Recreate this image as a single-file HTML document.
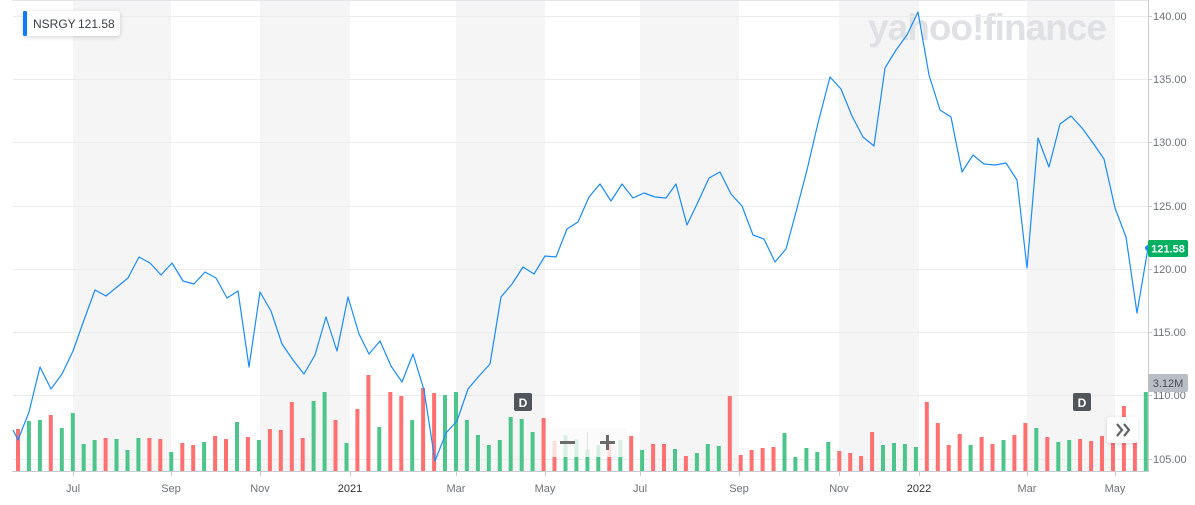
<!DOCTYPE html>
<html><head><meta charset="utf-8"><style>
html,body{margin:0;padding:0;background:#fff;}
body{width:1195px;height:505px;overflow:hidden;font-family:"Liberation Sans",sans-serif;}
</style></head><body>
<svg id="s" width="1195" height="505" xmlns="http://www.w3.org/2000/svg" style="position:absolute;left:0;top:0">
<line x1="12" y1="0.5" x2="1148" y2="0.5" stroke="#e3e5e8"/>
<g fill="#f5f5f5">
<rect x="73" y="1" width="98" height="470"/>
<rect x="260" y="1" width="90" height="470"/>
<rect x="456" y="1" width="89" height="470"/>
<rect x="640" y="1" width="99" height="470"/>
<rect x="839" y="1" width="80" height="470"/>
<rect x="1027" y="1" width="88" height="470"/>
</g>
<text x="987" y="40" font-size="37" font-weight="bold" fill="#dfe1e5" text-anchor="middle" font-family="Liberation Sans,sans-serif" letter-spacing="-1">yahoo!finance</text>
<g stroke="#ececec" stroke-width="1">
<line x1="13" y1="16.5" x2="1148" y2="16.5"/>
<line x1="13" y1="79.5" x2="1148" y2="79.5"/>
<line x1="13" y1="142.5" x2="1148" y2="142.5"/>
<line x1="13" y1="206.5" x2="1148" y2="206.5"/>
<line x1="13" y1="269.5" x2="1148" y2="269.5"/>
<line x1="13" y1="332.5" x2="1148" y2="332.5"/>
<line x1="13" y1="395.5" x2="1148" y2="395.5"/>
<line x1="13" y1="459.5" x2="1148" y2="459.5"/>
</g>
<g id="bars"></g>
<polyline fill="none" stroke="#1a8cff" stroke-width="1.2" stroke-linejoin="round" points="13,430 18,440 29,412 40,367 51,389 62,374 73,351 84,320 95,290 106,296 117,287 128,278 139,257 150,263 161,275 172,263 183,281 194,284 205,272 216,278 227,298 238,291 249,367 260,292 271,311 282,344 293,360 304,374 315,355 326,317 337,351 348,297 359,334 369,354 380,341 391,366 402,382 413,354 424,390 435,461 446,433 457,421 468,389 479,376 490,364 501,297 512,284 523,267 534,274 545,256 556,257 567,229 578,222 589,197 600,184 611,201 622,184 633,198 644,193 655,197 666,198 676,184 687,225 698,202 709,178 720,172 731,194 742,206 753,235 764,239 775,262 786,249 796,212 807,170 818,123 830,77 841,89 852,116 863,137 874,146 885,68 896,50 907,35 918,12 929,75 940,110 951,117 962,172 973,155 984,164 995,165 1006,163 1017,180 1027,268 1038,138 1049,167 1060,124 1071,116 1082,128 1093,143 1104,159 1115,208 1126,237 1137,313 1148,248"/>
<circle cx="1148" cy="248" r="3" fill="#1a8cff"/>
<line x1="1148.5" y1="0" x2="1148.5" y2="472" stroke="#c8cbd0"/>
<line x1="12" y1="471.5" x2="1148" y2="471.5" stroke="#c8cbd0"/>
<g stroke="#c8cbd0">
<line x1="73.5" y1="471" x2="73.5" y2="476"/><line x1="171.5" y1="471" x2="171.5" y2="476"/><line x1="260.5" y1="471" x2="260.5" y2="476"/><line x1="350.5" y1="471" x2="350.5" y2="476"/><line x1="456.5" y1="471" x2="456.5" y2="476"/><line x1="545.5" y1="471" x2="545.5" y2="476"/><line x1="640.5" y1="471" x2="640.5" y2="476"/><line x1="739.5" y1="471" x2="739.5" y2="476"/><line x1="839.5" y1="471" x2="839.5" y2="476"/><line x1="919.5" y1="471" x2="919.5" y2="476"/><line x1="1027.5" y1="471" x2="1027.5" y2="476"/><line x1="1115.5" y1="471" x2="1115.5" y2="476"/>
<line x1="1148" y1="16.5" x2="1152" y2="16.5"/><line x1="1148" y1="79.5" x2="1152" y2="79.5"/><line x1="1148" y1="142.5" x2="1152" y2="142.5"/><line x1="1148" y1="206.5" x2="1152" y2="206.5"/><line x1="1148" y1="269.5" x2="1152" y2="269.5"/><line x1="1148" y1="332.5" x2="1152" y2="332.5"/><line x1="1148" y1="395.5" x2="1152" y2="395.5"/><line x1="1148" y1="459.5" x2="1152" y2="459.5"/>
</g>
<g font-size="11" fill="#6e7379" text-anchor="middle">
<text x="73" y="492">Jul</text><text x="171" y="492">Sep</text><text x="260" y="492">Nov</text><text x="350" y="492" fill="#333">2021</text><text x="456" y="492">Mar</text><text x="545" y="492">May</text><text x="640" y="492">Jul</text><text x="739" y="492">Sep</text><text x="839" y="492">Nov</text><text x="919" y="492" fill="#333">2022</text><text x="1027" y="492">Mar</text><text x="1115" y="492">May</text>
</g>
<g font-size="11" fill="#6e7379">
<text x="1153" y="20">140.00</text><text x="1153" y="83">135.00</text><text x="1153" y="146">130.00</text><text x="1153" y="210">125.00</text><text x="1153" y="273">120.00</text><text x="1153" y="336">115.00</text><text x="1153" y="399">110.00</text><text x="1153" y="463">105.00</text>
</g>
<rect x="1148" y="240" width="40" height="17" rx="2" fill="#00b061"/>
<text x="1168" y="252.5" font-size="11" font-weight="bold" fill="#fff" text-anchor="middle">121.58</text>
<rect x="1148" y="374" width="40" height="18" rx="2" fill="#b9bdc4"/>
<text x="1168" y="387" font-size="11" fill="#4a4f55" text-anchor="middle">3.12M</text>
<rect x="23" y="11" width="97" height="25" rx="3" fill="#fff" style="filter:drop-shadow(0 1px 2px rgba(0,0,0,0.18))"/>
<rect x="23" y="11" width="4" height="25" rx="1.5" fill="#0f7bff"/>
<text x="33" y="28" font-size="12" fill="#3b4046">NSRGY</text>
<text x="78" y="28" font-size="12" fill="#3b4046">121.58</text>
<rect x="514" y="393" width="18" height="18" rx="2" fill="#51565c"/>
<text x="523" y="407" font-size="12" font-weight="bold" fill="#fff" text-anchor="middle">D</text>
<rect x="1073" y="393" width="18" height="18" rx="2" fill="#51565c"/>
<text x="1082" y="407" font-size="12" font-weight="bold" fill="#fff" text-anchor="middle">D</text>
<rect x="548" y="428" width="80" height="29" rx="3" fill="rgba(250,250,250,0.8)"/>
<line x1="587.5" y1="432" x2="587.5" y2="453" stroke="#e0e0e0"/>
<rect x="560" y="441" width="15" height="3" fill="#6b6b6b"/>
<rect x="600" y="441" width="15" height="3" fill="#6b6b6b"/><rect x="606" y="435" width="3" height="15" fill="#6b6b6b"/>
<rect x="1107" y="417" width="31" height="26" rx="3" fill="#fff" style="filter:drop-shadow(0 1px 2px rgba(0,0,0,0.15))"/>
<path d="M1117 424 l5 6 l-5 6 M1124 424 l5 6 l-5 6" stroke="#5f6368" stroke-width="2.2" fill="none"/>
</svg>
<script>
var c="rggrggggrgggrrgrrgrrgrgrrrrggrgrrgrrgrrgggggggggrg".split("");
var t=[147,123,120,105,144,99,192,180,174,177,210,174,174,177,216,189,195,186,168,177,126,171,180,147,150,66,174,63,36,120,189,87,-15,141,36,48,120,24,39,45,36,120,165,195,180,111,117,156,114];
var c2="rgggg rgrgr rgrgg grrrr rgggg grrrr ggggr rrrgr rgrrg rggrr rrrrg".replace(/ /g,"").split("");
var t2=[183,165,178,207,195,182,180,168,210,192,192,207,228,219,192,198,48,225,210,204,201,159,231,204,216,186,213,219,228,156,195,189,192,201,66,129,195,162,195,171,192,180,165,129,144,171,186,180,177,183,168,180,78,180,36];
c=c.slice(0,49).concat(c2);t=t.concat(t2);
var g=document.getElementById("bars"),h="";
for(var i=0;i<104;i++){var x=18+10.95*i,y=380+t[i]/3;h+='<rect x="'+(x-2).toFixed(1)+'" y="'+y.toFixed(1)+'" width="4" height="'+(471-y).toFixed(1)+'" fill="'+(c[i]=="r"?"#ff7071":"#4cc58b")+'"/>';}
g.innerHTML=h;
</script>
</body></html>
